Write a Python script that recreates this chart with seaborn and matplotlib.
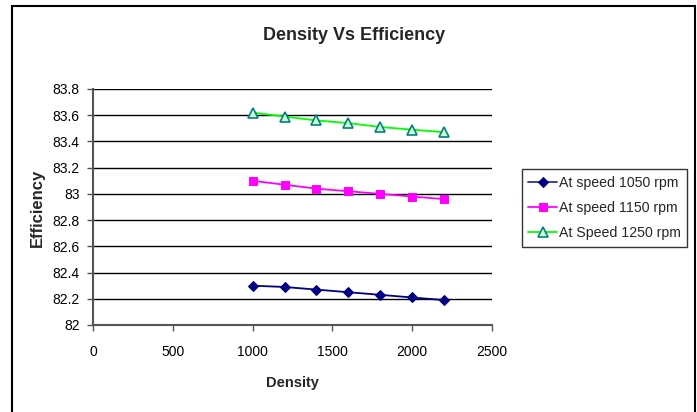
import matplotlib
matplotlib.use("Agg")
import matplotlib.pyplot as plt
from matplotlib.patches import Rectangle
import seaborn as sns
import pandas as pd

density = [1000, 1200, 1400, 1600, 1800, 2000, 2200]
eff_1050 = [82.30, 82.29, 82.27, 82.25, 82.23, 82.21, 82.19]
eff_1150 = [83.10, 83.07, 83.04, 83.02, 83.00, 82.98, 82.96]
eff_1250 = [83.62, 83.59, 83.56, 83.54, 83.51, 83.49, 83.47]
labels = ["At speed 1050 rpm", "At speed 1150 rpm", "At Speed 1250 rpm"]
x_ticks = [0, 500, 1000, 1500, 2000, 2500]
y_ticks = [82, 82.2, 82.4, 82.6, 82.8, 83, 83.2, 83.4, 83.6, 83.8]
y_tick_labels = ["82", "82.2", "82.4", "82.6", "82.8", "83", "83.2", "83.4", "83.6", "83.8"]

sns.set_theme(style="white")
plt.rcParams["font.family"] = ["Liberation Sans", "DejaVu Sans"]

fig = plt.figure(figsize=(6.97, 4.12), dpi=100)
ax = fig.add_axes([93 / 697, 1 - 325 / 412, (492 - 93) / 697, (325 - 89) / 412])

styles = [
    dict(color="#000080", marker="D", markersize=5.5, markerfacecolor="#000080",
         markeredgecolor="#000080"),
    dict(color="#FF00FF", marker="s", markersize=6, markerfacecolor="#FF00FF",
         markeredgecolor="#FF00FF"),
    dict(color="#00FF00", marker="^", markersize=6.5, markerfacecolor="#CCFFCC",
         markeredgecolor="#008080", markeredgewidth=1.2),
]
series = [eff_1050, eff_1150, eff_1250]
for vals, lab, st in zip(series, labels, styles):
    df = pd.DataFrame({"Density": density, "Efficiency": vals})
    sns.lineplot(data=df, x="Density", y="Efficiency", ax=ax, label=lab,
                 linewidth=1.3, **st)

ax.set_xlim(0, 2500)
ax.set_ylim(82, 83.8)
ax.set_xticks(x_ticks)
ax.set_xticklabels([str(t) for t in x_ticks])
ax.set_yticks(y_ticks)
ax.set_yticklabels(y_tick_labels)
ax.yaxis.grid(True, color="black", linewidth=1.0)
ax.xaxis.grid(False)
for side in ["top", "right"]:
    ax.spines[side].set_visible(False)
for side in ["left", "bottom"]:
    ax.spines[side].set_color("#555555")
    ax.spines[side].set_linewidth(1.5)
ax.tick_params(axis="both", which="major", direction="out", length=4.5, width=1,
               color="#555555", labelsize=10, labelcolor="black", bottom=True, left=True)
ax.tick_params(axis="x", pad=10)
ax.tick_params(axis="y", pad=5)

ax.set_xlabel("Density", fontsize=10.5, fontweight="bold")
ax.set_ylabel("Efficiency", fontsize=12, fontweight="bold")
ax.xaxis.set_label_coords((292 - 93) / 399, (325 - 383) / 236)
ax.xaxis.label.set_va("center")
ax.yaxis.set_label_coords((37 - 93) / 399, (325 - 208) / 236)
ax.yaxis.label.set_va("center")

fig.text(354 / 697, 1 - 35 / 412, "Density Vs Efficiency", ha="center", va="center",
         fontsize=13, fontweight="bold")

leg = ax.legend(loc="center left", bbox_to_anchor=(522 / 697, 1 - 208 / 412),
                bbox_transform=fig.transFigure, fontsize=10.2, frameon=True,
                fancybox=False, edgecolor="black", handlelength=2.0,
                borderpad=0.45, labelspacing=0.8, handletextpad=0.15, borderaxespad=0)
leg.get_frame().set_linewidth(1.0)
leg.get_lines()[0].set_color("#333399")

fig.patches.append(Rectangle((12 / 697, -0.02), (695 - 12) / 697, 1.02 - 6 / 412,
                             transform=fig.transFigure, fill=False,
                             edgecolor="black", linewidth=1.5))

fig.savefig("out.png", dpi=100)
